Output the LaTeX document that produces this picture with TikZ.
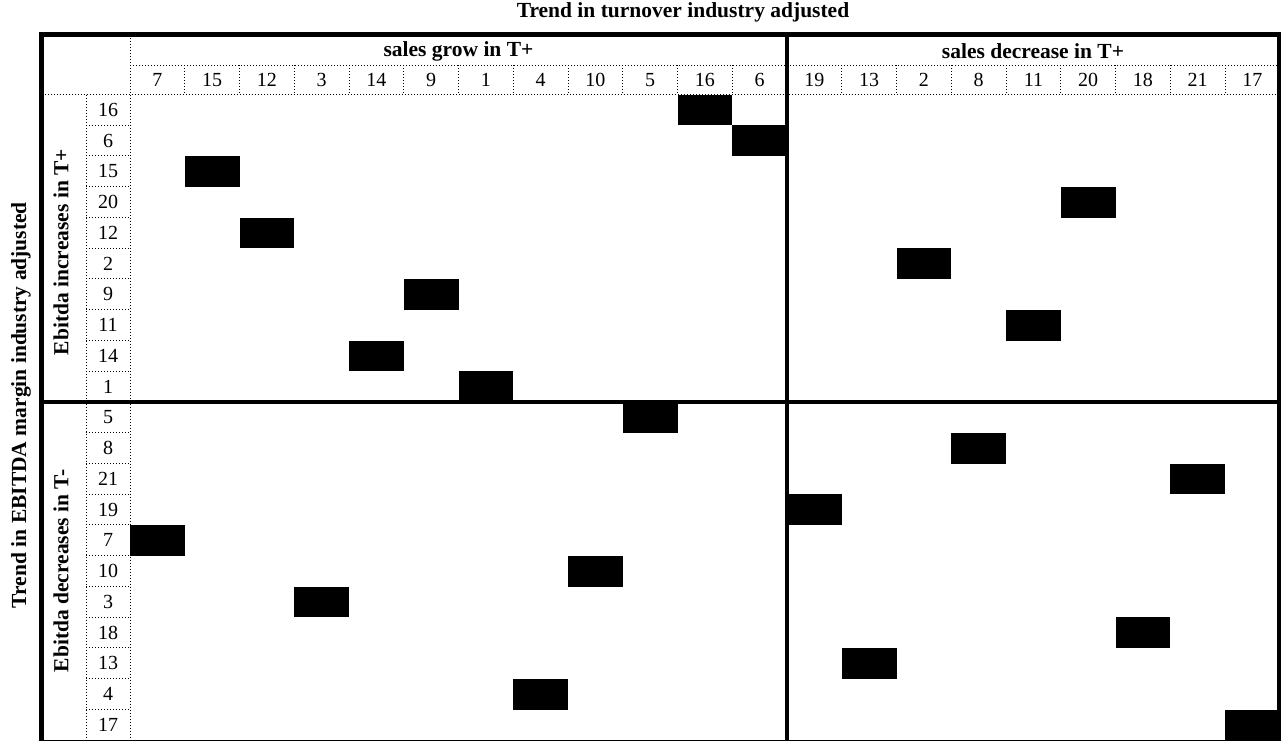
\documentclass[tikz,border=0pt]{standalone}
\usepackage{fontspec}
\setmainfont{Liberation Serif}
\begin{document}
\begin{tikzpicture}[x=1pt,y=-1pt,
  thickline/.style={line width=4.5pt},
  dotline/.style={line width=1pt, dash pattern=on 1pt off 2pt},
  num/.style={font=\fontsize{20}{20}\selectfont, inner sep=0pt},
  hdr/.style={font=\bfseries\fontsize{21.5}{21.5}\selectfont, inner sep=0pt},
  cellbox/.style={fill=black, draw=none, minimum width=54.75pt, minimum height=30.74pt, inner sep=0pt, anchor=north west}]
\useasboundingbox (0,0) rectangle (1281,740);
\clip (0,0) rectangle (1281,740);
\fill[white] (0,0) rectangle (1281,740);
% black cells (row index / column index)
\foreach \c [count=\j from 0] in {10,11,1,17,2,14,5,16,4,6,9,15,19,12,0,8,3,18,13,7,20}
  \node[cellbox] (cell\j) at ({130+\c*54.75},{94.5+\j*30.74}) {};
% column labels
\foreach \t [count=\i from 0] in {7,15,12,3,14,9,1,4,10,5,16,6,19,13,2,8,11,20,18,21,17}
  \node[num] (col\i) at ({130+(\i+0.5)*54.75},79.75) {\t};
% row labels
\foreach \t [count=\j from 0] in {16,6,15,20,12,2,9,11,14,1,5,8,21,19,7,10,3,18,13,4,17}
  \node[num] (row\j) at (108,{94.5+(\j+0.5)*30.74}) {\t};
% dotted grid
\draw[dotline] (130,34.5) -- (130,741);
\draw[dotline] (86,94.5) -- (86,741);
\draw[dotline] (130,65) -- (1279.5,65);
\draw[dotline] (41.5,94.5) -- (1279.5,94.5);
\foreach \i in {1,...,11,13,14,...,20}
  \draw[dotline] ({130+\i*54.75},65) -- ({130+\i*54.75},94.5);
\foreach \j in {1,...,9,11,12,...,20}
  \draw[dotline] (86,{94.5+\j*30.74}) -- (130,{94.5+\j*30.74});
% thick lines
\draw[thickline] (41.5,34.5) rectangle (1279.5,742);
\draw[thickline] (787,34.5) -- (787,742);
\draw[thickline] (41.5,402) -- (1279.5,402);
% labels
\node[hdr] (title) at (683,12) {Trend in turnover industry adjusted};
\node[hdr] (grow) at (458.5,51) {sales grow in T+};
\node[hdr] (decr) at (1033,51) {sales decrease in T+};
\node[hdr, rotate=90] (ylab) at (21,405) {Trend in EBITDA margin industry adjusted};
\node[hdr, rotate=90] (inc) at (61,252) {Ebitda increases in T+};
\node[hdr, rotate=90] (dec) at (61,571) {Ebitda decreases in T-};
\end{tikzpicture}
\end{document}
